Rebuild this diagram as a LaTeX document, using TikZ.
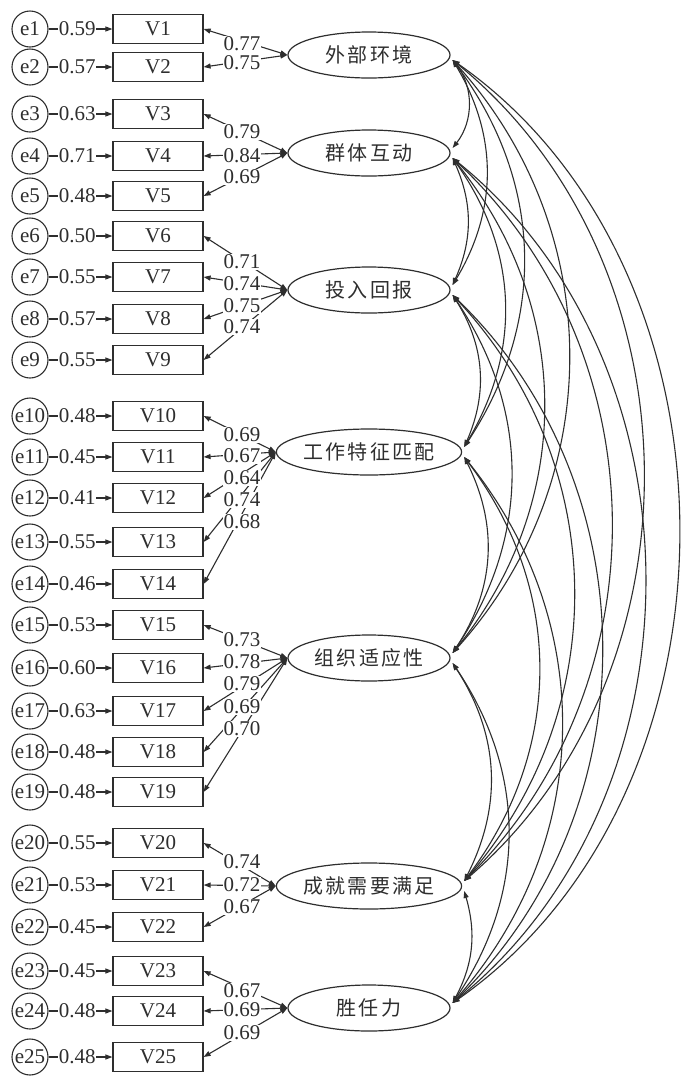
\documentclass[tikz,border=0pt]{standalone}
\usepackage{fontspec}
\setmainfont{Liberation Serif}
\newfontfamily\cjk{Noto Sans CJK SC}[LetterSpace=11]
\usetikzlibrary{arrows.meta,shapes.geometric,calc}
\definecolor{ink}{HTML}{2E2E2E}

\begin{document}
\begin{tikzpicture}[x=1pt,y=1pt,
  every node/.style={font=\fontsize{21}{23}\selectfont, text=ink},
  line/.style={draw=ink, line width=1.1pt},
  obs/.style={draw=ink, line width=1.2pt, minimum width=90pt, minimum height=29pt, inner sep=0pt},
  err/.style={draw=ink, circle, line width=1.1pt, minimum size=36pt, inner sep=0pt},
  lat/.style={draw=ink, ellipse, line width=1.2pt, minimum width=162pt, minimum height=46pt, inner sep=0pt, font=\fontsize{20}{22}\selectfont\cjk},
  wt/.style={fill=white, inner sep=0.6pt},
  tipend/.style={-{Triangle[length=7pt,width=5pt]}},
  tipboth/.style={{Triangle[length=7pt,width=5pt]}-{Triangle[length=7pt,width=5pt]}}]

\useasboundingbox[fill=white] (0,0) rectangle (695,-1080);

% latent factors
\node[lat] (L1) at (369,-55)   {外部环境};
\node[lat] (L2) at (369,-153)  {群体互动};
\node[lat] (L3) at (369,-290)  {投入回报};
\node[lat] (L4) at (369,-452)  {工作特征匹配};
\node[lat] (L5) at (369,-658)  {组织适应性};
\node[lat] (L6) at (369,-886)  {成就需要满足};
\node[lat] (L7) at (369,-1008) {胜任力};

% attachment points for the covariance arcs
\foreach \k in {1,...,7} {
  \coordinate (L\k d) at ($(L\k.east)+(2,-5)$);
  \coordinate (L\k u) at ($(L\k.east)+(2,5)$);
}

% observed variables, error terms and error paths
\foreach \i/\py/\w in {1/29/0.59, 2/67/0.57, 3/114/0.63, 4/156/0.71, 5/196/0.48,
    6/236/0.50, 7/277/0.55, 8/319/0.57, 9/360/0.55, 10/416/0.48, 11/457/0.45,
    12/498/0.41, 13/542/0.55, 14/584/0.46, 15/625/0.53, 16/668/0.60, 17/711/0.63,
    18/752/0.48, 19/792/0.48, 20/843/0.55, 21/885/0.53, 22/927/0.45, 23/971/0.45,
    24/1011/0.48, 25/1057/0.48} {
  \node[obs] (V\i) at (158,-\py) {V\i};
  \node[err] (e\i) at (30,-\py) {e\i};
  \draw[line, tipend] (e\i) -- node[pos=0.45, wt] (r\i) {\w} (V\i);
}

% factor loadings
\foreach \i/\l in {1/1, 2/1, 3/2, 4/2, 5/2, 6/3, 7/3, 8/3, 9/3, 10/4, 11/4, 12/4,
    13/4, 14/4, 15/5, 16/5, 17/5, 18/5, 19/5, 20/6, 21/6, 22/6, 23/7, 24/7, 25/7} {
  \draw[line, tipboth] (V\i.east) -- (L\l.west);
}
\foreach \i/\v/\ly in {1/0.77/43.5, 2/0.75/62.5, 3/0.79/132, 4/0.84/156, 5/0.69/177,
    6/0.71/262, 7/0.74/284, 8/0.75/306, 9/0.74/327, 10/0.69/435, 11/0.67/456,
    12/0.64/478, 13/0.74/500, 14/0.68/522, 15/0.73/640, 16/0.78/662, 17/0.79/684,
    18/0.69/707, 19/0.70/729, 20/0.74/862, 21/0.72/885, 22/0.67/907, 23/0.67/991,
    24/0.69/1010, 25/0.69/1033} {
  \node[wt] (w\i) at (242,-\ly) {\v};
}

% covariances between factors
\foreach \a/\b/\t in {1/2/38, 1/3/31, 1/4/35, 1/5/42, 1/6/50, 1/7/55,
    2/3/24, 2/4/33, 2/5/39, 2/6/46, 2/7/51,
    3/4/28, 3/5/34, 3/6/42, 3/7/46,
    4/5/30, 4/6/37, 4/7/40,
    5/6/30, 5/7/34,
    6/7/22} {
  \draw[line, tipboth] (L\a d) to[bend left=\t] (L\b u);
}
\end{tikzpicture}
\end{document}
